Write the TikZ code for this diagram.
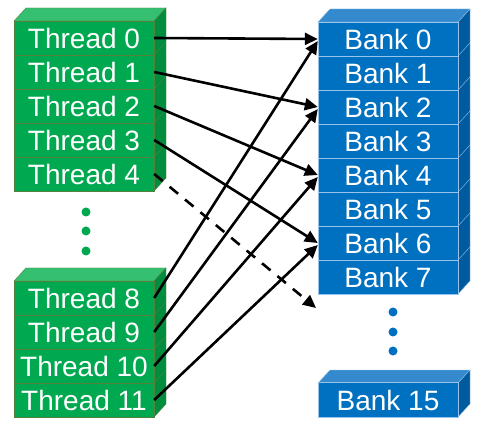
\documentclass[tikz,border=0pt]{standalone}
\usepackage{fontspec}
\setmainfont{Liberation Sans}
\usetikzlibrary{arrows.meta}
\definecolor{thrfront}{RGB}{0,168,80}
\definecolor{thrtop}{RGB}{52,192,112}
\definecolor{thrside}{RGB}{0,142,62}
\definecolor{thrline}{RGB}{84,130,60}
\definecolor{bnkfront}{RGB}{0,112,192}
\definecolor{bnktop}{RGB}{52,138,204}
\definecolor{bnkside}{RGB}{0,90,158}
\definecolor{bnkline}{RGB}{150,196,236}
\tikzset{
  thread/.style={draw=thrline, fill=thrfront, text=white, minimum width=140pt, minimum height=34pt, inner sep=0pt, font=\fontsize{28}{30}\selectfont},
  bank/.style={draw=bnkline, fill=bnkfront, text=white, minimum width=140pt, minimum height=34pt, inner sep=0pt, font=\fontsize{28}{30}\selectfont},
  access/.style={line width=2.6pt, -{Triangle[length=13pt,width=12pt]}},
}
\begin{document}
\begin{tikzpicture}[x=1pt,y=-1pt]
\useasboundingbox (0,0) rectangle (490,438);
% Thread stack 0-4
\filldraw[fill=thrtop, draw=thrline] (14,21) -- (26,8) -- (166,8) -- (154,21) -- cycle;
\filldraw[fill=thrside, draw=thrline] (154,21) -- (166,8) -- (166,178) -- (154,191) -- cycle;
\foreach \i in {1,...,4} \draw[thrline] (154,{21+34*\i}) -- ++(12,-13);
\foreach \i in {0,...,4} \node[thread] (t\i) at (84,{38+34*\i}) {Thread \i};
% Thread stack 8-11
\filldraw[fill=thrtop, draw=thrline] (14,281) -- (26,268) -- (166,268) -- (154,281) -- cycle;
\filldraw[fill=thrside, draw=thrline] (154,281) -- (166,268) -- (166,404) -- (154,417) -- cycle;
\foreach \i in {1,...,3} \draw[thrline] (154,{281+34*\i}) -- ++(12,-13);
\foreach \i in {8,...,11} \node[thread] (t\i) at (84,{298+34*(\i-8)}) {Thread \i};
\foreach \y in {212,231,251} \fill[thrfront] (86,\y) circle (4.5pt);
% Bank stack 0-7
\filldraw[fill=bnktop, draw=bnkline] (318,22) -- (330,9) -- (470,9) -- (458,22) -- cycle;
\filldraw[fill=bnkside, draw=bnkline] (458,22) -- (470,9) -- (470,281) -- (458,294) -- cycle;
\foreach \i in {1,...,7} \draw[bnkline] (458,{22+34*\i}) -- ++(12,-13);
\foreach \i in {0,...,7} \node[bank] (b\i) at (388,{39+34*\i}) {Bank \i};
\coordinate (b8) at (316,308);
\foreach \y in {312,332,351} \fill[bnkfront] (393,\y) circle (4.5pt);
% Bank 15
\filldraw[fill=bnktop, draw=bnkline] (318,383) -- (330,370) -- (470,370) -- (458,383) -- cycle;
\filldraw[fill=bnkside, draw=bnkline] (458,383) -- (470,370) -- (470,404) -- (458,417) -- cycle;
\node[bank, minimum height=35pt] (b15) at (388,400) {Bank 15};
% Accesses
\draw[access] (t0.east) -- (b0.west);
\foreach \t/\b in {1/2,2/4,3/6} \draw[access] (t\t.east) -- (b\b.west);
\foreach \t/\b in {8/0,9/2,10/4,11/6} \draw[access] (t\t.east) -- ([yshift=-2pt]b\b.west);
\draw[access, dash pattern=on 11pt off 9pt] (t4.east) -- (b8);
\end{tikzpicture}
\end{document}
